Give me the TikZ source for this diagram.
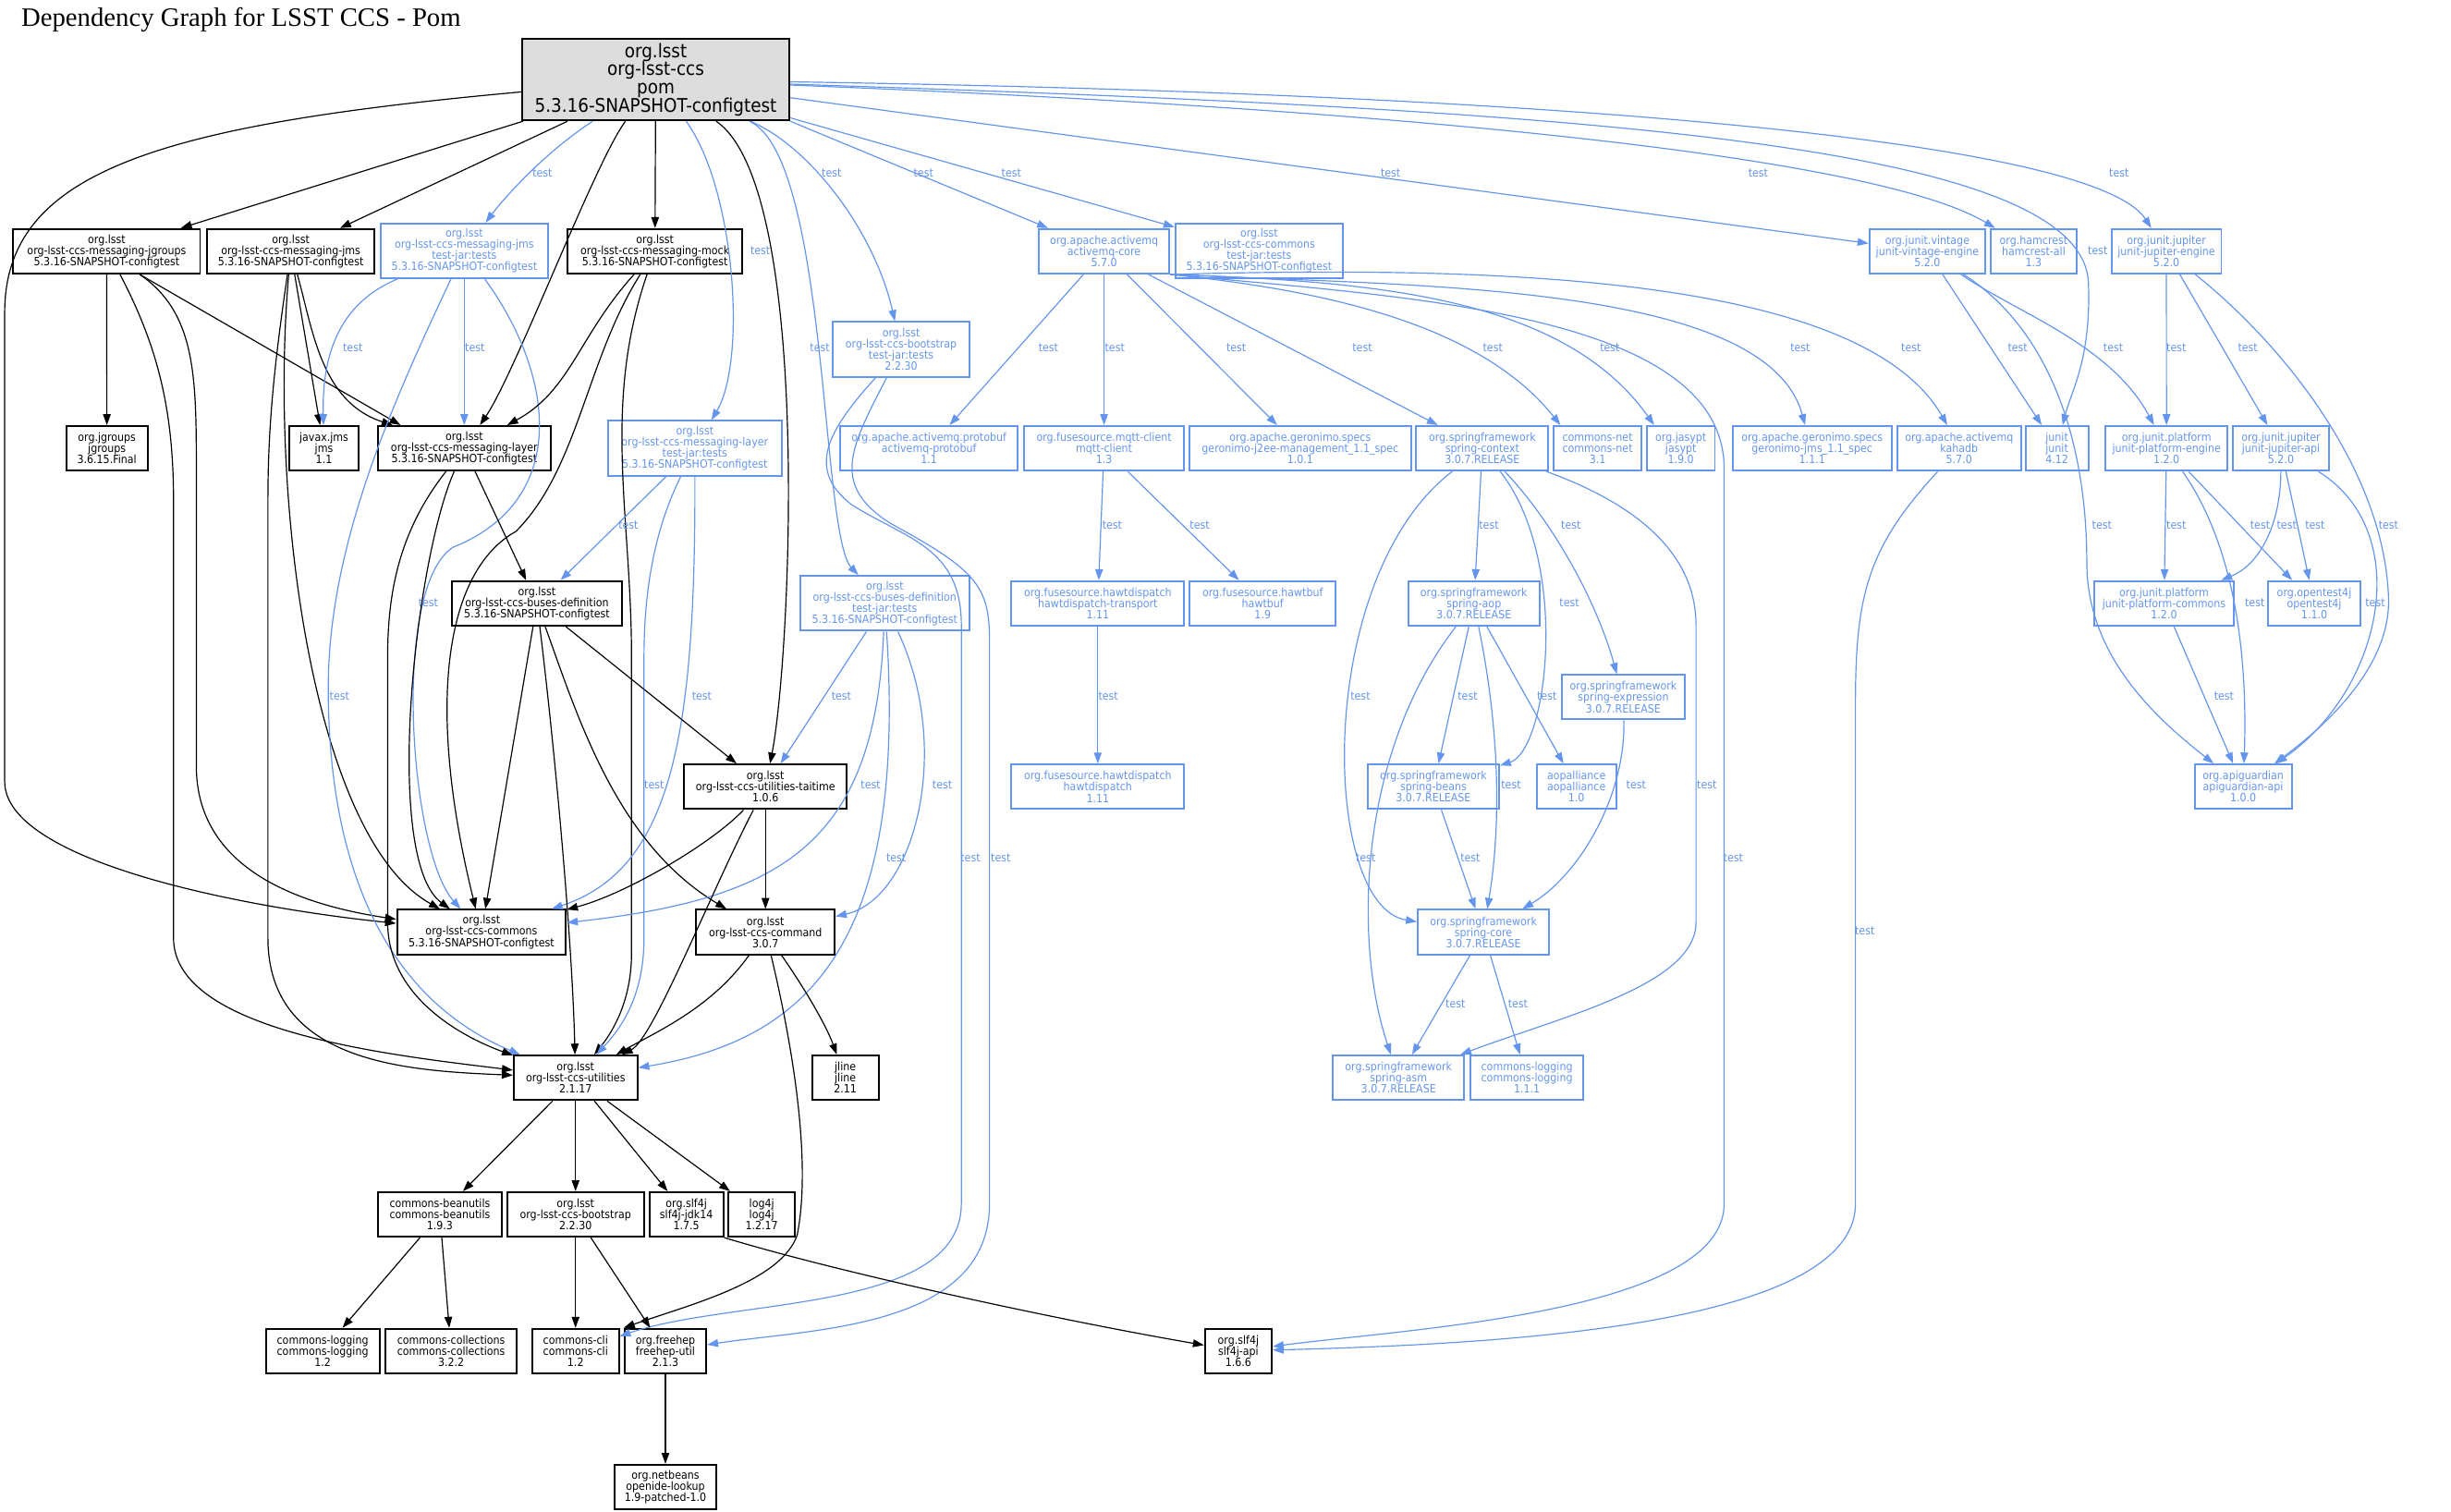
\documentclass[tikz,border=0pt]{standalone}
\usepackage{fontspec}
\setmainfont{Liberation Serif}
\newfontfamily\depfont{DejaVu Sans}[FakeStretch=0.9]
\usetikzlibrary{arrows.meta}
\definecolor{testblue}{RGB}{100,149,237}
\definecolor{rootgray}{RGB}{221,221,221}
\tikzstyle{pkg} = [rectangle, draw=black, line width=1pt, minimum height=0.855cm, inner xsep=1pt, inner ysep=0pt, align=center, font=\depfont\fontsize{6.2}{6.1}\selectfont]
\tikzstyle{testpkg} = [pkg, draw=testblue, text=testblue]
\tikzstyle{testjar} = [testpkg, minimum height=1.05cm]
\tikzstyle{rootpkg} = [pkg, fill=rootgray, minimum height=1.56cm, font=\depfont\fontsize{10.3}{10}\selectfont]
\tikzstyle{arrow} = [line width=.6pt, ->, >={Triangle[length=6pt,width=4.2pt]}]
\tikzstyle{tarrow} = [arrow, testblue]
\tikzstyle{lbl} = [font=\depfont\fontsize{6.2}{6.1}\selectfont, text=testblue, inner sep=0pt]
\begin{document}
\begin{tikzpicture}[x=0.03cm, y=-0.03cm]
\useasboundingbox (0,0) rectangle (1568,967);
\node (title) [anchor=base west, font=\fontsize{14.5}{16}\selectfont] at (9.5,16.8) {Dependency Graph for LSST CCS - Pom};

% packages
\node (root) [rootpkg, minimum width=5.13cm] at (419.5,51) {org.lsst\\org-lsst-ccs\\pom\\5.3.16-SNAPSHOT-configtest};
\node (msgjgroups) [pkg, minimum width=3.585cm] at (68.25,160.75) {org.lsst\\org-lsst-ccs-messaging-jgroups\\5.3.16-SNAPSHOT-configtest};
\node (msgjms) [pkg, minimum width=3.219cm] at (186,160.75) {org.lsst\\org-lsst-ccs-messaging-jms\\5.3.16-SNAPSHOT-configtest};
\node (jmstest) [testjar, minimum width=3.219cm] at (297,160.5) {org.lsst\\org-lsst-ccs-messaging-jms\\test-jar:tests\\5.3.16-SNAPSHOT-configtest};
\node (msgmock) [pkg, minimum width=3.36cm] at (419,160.75) {org.lsst\\org-lsst-ccs-messaging-mock\\5.3.16-SNAPSHOT-configtest};
\node (amqcore) [testpkg, minimum width=2.502cm] at (706.3,160.75) {org.apache.activemq\\activemq-core\\5.7.0};
\node (commonstest) [testjar, minimum width=3.21cm] at (805.5,160.5) {org.lsst\\org-lsst-ccs-commons\\test-jar:tests\\5.3.16-SNAPSHOT-configtest};
\node (vintage) [testpkg, minimum width=2.22cm] at (1233,160.75) {org.junit.vintage\\junit-vintage-engine\\5.2.0};
\node (hamcrest) [testpkg, minimum width=1.65cm] at (1301,160.75) {org.hamcrest\\hamcrest-all\\1.3};
\node (jupeng) [testpkg, minimum width=2.109cm] at (1385.9,160.75) {org.junit.jupiter\\junit-jupiter-engine\\5.2.0};
\node (bootstraptest) [testjar, minimum width=2.61cm] at (576.5,223.5) {org.lsst\\org-lsst-ccs-bootstrap\\test-jar:tests\\2.2.30};

\node (jgroupsjar) [pkg, minimum width=1.56cm] at (68.4,286.8) {org.jgroups\\jgroups\\3.6.15.Final};
\node (javaxjms) [pkg, minimum width=1.335cm] at (207.25,286.8) {javax.jms\\jms\\1.1};
\node (msglayer) [pkg, minimum width=3.321cm] at (297,286.8) {org.lsst\\org-lsst-ccs-messaging-layer\\5.3.16-SNAPSHOT-configtest};
\node (layertest) [testjar, minimum width=3.33cm] at (444.5,286.8) {org.lsst\\org-lsst-ccs-messaging-layer\\test-jar:tests\\5.3.16-SNAPSHOT-configtest};
\node (protobuf) [testpkg, minimum width=3.402cm] at (594.3,286.8) {org.apache.activemq.protobuf\\activemq-protobuf\\1.1};
\node (mqtt) [testpkg, minimum width=3.078cm] at (706.3,286.8) {org.fusesource.mqtt-client\\mqtt-client\\1.3};
\node (geronimoj2ee) [testpkg, minimum width=4.248cm] at (831.8,286.8) {org.apache.geronimo.specs\\geronimo-j2ee-management\_1.1\_spec\\1.0.1};
\node (springctx) [testpkg, minimum width=2.538cm] at (948.3,286.8) {org.springframework\\spring-context\\3.0.7.RELEASE};
\node (commonsnet) [testpkg, minimum width=1.68cm] at (1022,286.8) {commons-net\\commons-net\\3.1};
\node (jasypt) [testpkg, minimum width=1.305cm] at (1075.3,286.8) {org.jasypt\\jasypt\\1.9.0};
\node (geronimojms) [testpkg, minimum width=3.045cm] at (1159.3,286.8) {org.apache.geronimo.specs\\geronimo-jms\_1.1\_spec\\1.1.1};
\node (kahadb) [testpkg, minimum width=2.37cm] at (1253.3,286.8) {org.apache.activemq\\kahadb\\5.7.0};
\node (junit) [testpkg, minimum width=1.209cm] at (1315.9,286.8) {junit\\junit\\4.12};
\node (platformeng) [testpkg, minimum width=2.34cm] at (1386,286.8) {org.junit.platform\\junit-platform-engine\\1.2.0};
\node (jupapi) [testpkg, minimum width=1.83cm] at (1459.2,286.8) {org.junit.jupiter\\junit-jupiter-api\\5.2.0};

\node (busesdef) [pkg, minimum width=3.27cm] at (343.5,386) {org.lsst\\org-lsst-ccs-buses-definition\\5.3.16-SNAPSHOT-configtest};
\node (busestest) [testjar, minimum width=3.24cm] at (566,386) {org.lsst\\org-lsst-ccs-buses-definition\\test-jar:tests\\5.3.16-SNAPSHOT-configtest};
\node (hawtdtransport) [testpkg, minimum width=3.315cm] at (702.3,386) {org.fusesource.hawtdispatch\\hawtdispatch-transport\\1.11};
\node (hawtbuf) [testpkg, minimum width=2.805cm] at (807.8,386) {org.fusesource.hawtbuf\\hawtbuf\\1.9};
\node (springaop) [testpkg, minimum width=2.511cm] at (942.9,386) {org.springframework\\spring-aop\\3.0.7.RELEASE};
\node (platformcommons) [testpkg, minimum width=2.661cm] at (1384.4,386) {org.junit.platform\\junit-platform-commons\\1.2.0};
\node (opentest4j) [testpkg, minimum width=1.77cm] at (1480.5,386) {org.opentest4j\\opentest4j\\1.1.0};
\node (springexpr) [testpkg, minimum width=2.37cm] at (1038.5,446) {org.springframework\\spring-expression\\3.0.7.RELEASE};

\node (taitime) [pkg, minimum width=3.12cm] at (489.7,503.3) {org.lsst\\org-lsst-ccs-utilities-taitime\\1.0.6};
\node (hawtdispatch) [testpkg, minimum width=3.315cm] at (702.3,503.3) {org.fusesource.hawtdispatch\\hawtdispatch\\1.11};
\node (springbeans) [testpkg, minimum width=2.52cm] at (917,503.3) {org.springframework\\spring-beans\\3.0.7.RELEASE};
\node (aopalliance) [testpkg, minimum width=1.53cm] at (1008.5,503.3) {aopalliance\\aopalliance\\1.0};
\node (apiguardian) [testpkg, minimum width=1.86cm] at (1435,503.3) {org.apiguardian\\apiguardian-api\\1.0.0};

\node (commons) [pkg, minimum width=3.24cm] at (308,596.3) {org.lsst\\org-lsst-ccs-commons\\5.3.16-SNAPSHOT-configtest};
\node (command) [pkg, minimum width=2.658cm] at (489.7,596.3) {org.lsst\\org-lsst-ccs-command\\3.0.7};
\node (springcore) [testpkg, minimum width=2.52cm] at (949,596.3) {org.springframework\\spring-core\\3.0.7.RELEASE};

\node (utilities) [pkg, minimum width=2.37cm] at (368.2,689.5) {org.lsst\\org-lsst-ccs-utilities\\2.1.17};
\node (jline) [pkg, minimum width=1.272cm] at (540.8,689.5) {jline\\jline\\2.11};
\node (springasm) [testpkg, minimum width=2.52cm] at (894.7,689.5) {org.springframework\\spring-asm\\3.0.7.RELEASE};
\node (logging111) [testpkg, minimum width=2.172cm] at (976.8,689.5) {commons-logging\\commons-logging\\1.1.1};

\node (beanutils) [pkg, minimum width=2.379cm] at (281.4,776.9) {commons-beanutils\\commons-beanutils\\1.9.3};
\node (bootstrap) [pkg, minimum width=2.619cm] at (368.2,776.9) {org.lsst\\org-lsst-ccs-bootstrap\\2.2.30};
\node (slf4jjdk) [pkg, minimum width=1.416cm] at (439.1,776.9) {org.slf4j\\slf4j-jdk14\\1.7.5};
\node (log4j) [pkg, minimum width=1.278cm] at (487.3,776.9) {log4j\\log4j\\1.2.17};

\node (logging12) [pkg, minimum width=2.181cm] at (206.4,864.3) {commons-logging\\commons-logging\\1.2};
\node (collections) [pkg, minimum width=2.523cm] at (288.6,864.3) {commons-collections\\commons-collections\\3.2.2};
\node (commonscli) [pkg, minimum width=1.659cm] at (368.2,864.3) {commons-cli\\commons-cli\\1.2};
\node (freehep) [pkg, minimum width=1.566cm] at (425.7,864.3) {org.freehep\\freehep-util\\2.1.3};
\node (slf4japi) [pkg, minimum width=1.284cm] at (792.2,864.3) {org.slf4j\\slf4j-api\\1.6.6};
\node (openide) [pkg, minimum width=1.959cm] at (425.7,951.3) {org.netbeans\\openide-lookup\\1.9-patched-1.0};

% root
\draw [arrow] (root) -- (msgjgroups);
\draw [arrow] (root) -- (msgjms);
\draw [tarrow] (root) .. controls (345,100) and (320,130) .. (jmstest) node[lbl] at (347,110.8) {test};
\draw [arrow] (root) .. controls (380,105) and (330,238) .. (msglayer);
\draw [arrow] (root) -- (msgmock);
\draw [tarrow] (root) .. controls (470,120) and (478,230) .. (layertest) node[lbl] at (486.4,160.3) {test};
\draw [arrow] (root) .. controls (520,120) and (506,420) .. (taitime);
\draw [arrow] (root) .. controls (100,80) and (3,110) .. (3,200) -- (3,500) .. controls (3,550) and (150,580) .. (commons);
\draw [tarrow] (root) .. controls (530,100) and (525,342) .. (busestest) node[lbl] at (524.5,222.7) {test};
\draw [tarrow] (root) .. controls (520,95) and (560,150) .. (bootstraptest) node[lbl] at (532,110.8) {test};
\draw [tarrow] (root.south east) -- (amqcore) node[lbl] at (590.8,110.8) {test};
\draw [tarrow] (root) -- (commonstest) node[lbl] at (647,110.8) {test};
\draw [tarrow] (root) -- (vintage) node[lbl] at (889.6,110.8) {test};
\draw [tarrow] (root) .. controls (900,70) and (1200,100) .. (hamcrest) node[lbl] at (1124.8,110.8) {test};
\draw [tarrow] (root) .. controls (1000,70) and (1330,90) .. (1336,180) .. controls (1338,230) and (1325,250) .. (junit) node[lbl] at (1342,160.3) {test};
\draw [tarrow] (root) .. controls (1000,60) and (1340,90) .. (jupeng) node[lbl] at (1355.6,110.8) {test};

% messaging jgroups / jms / mock / layer
\draw [arrow] (msgjgroups) -- (jgroupsjar);
\draw [arrow] (msgjgroups.-35) -- (msglayer.160);
\draw [arrow] (msgjgroups.-35) .. controls (125,200) and (125.6,240) .. (125.6,300) -- (125.6,490) .. controls (125.6,560) and (200,580) .. (commons);
\draw [arrow] (msgjgroups.-60) .. controls (100,220) and (111,260) .. (111,320) -- (111,600) .. controls (111,660) and (250,675) .. (utilities);
\draw [arrow] (msgjms) -- (javaxjms);
\draw [arrow] (msgjms) .. controls (200,210) and (205,257) .. (msglayer);
\draw [arrow] (msgjms) .. controls (172,320) and (200,536) .. (commons);
\draw [arrow] (msgjms) .. controls (176,230) and (171.4,270) .. (171.4,320) -- (171.4,600) .. controls (171.4,680) and (260,685) .. (utilities);
\draw [tarrow] (jmstest) .. controls (215,195) and (206,230) .. (javaxjms) node[lbl] at (225.7,222.7) {test};
\draw [tarrow] (jmstest) -- (msglayer) node[lbl] at (303.8,222.7) {test};
\draw [tarrow] (jmstest) .. controls (355,240) and (365,320) .. (290,350) .. controls (250,375) and (262,545) .. (commons) node[lbl] at (274,385.8) {test};
\draw [tarrow] (jmstest) .. controls (250,260) and (210,350) .. (210,440) .. controls (210,560) and (250,640) .. (utilities) node[lbl] at (217.2,445.5) {test};
\draw [arrow] (msgmock) .. controls (370,215) and (365,250) .. (msglayer);
\draw [arrow] (msgmock) .. controls (375,230) and (370,300) .. (330,340) .. controls (285,365) and (272,450) .. (commons);
\draw [arrow] (msgmock) .. controls (385,260) and (404,330) .. (404,420) -- (404,610) .. controls (404,640) and (392,660) .. (utilities);
\draw [arrow] (msglayer) -- (busesdef);
\draw [arrow] (msglayer) .. controls (265,360) and (245,550) .. (commons);
\draw [arrow] (msglayer) .. controls (255,340) and (248,380) .. (248,420) -- (248,590) .. controls (248,640) and (300,665) .. (utilities);
\draw [tarrow] (layertest) -- (busesdef) node[lbl] at (402,336) {test};
\draw [tarrow] (layertest) .. controls (445,470) and (430,556) .. (commons) node[lbl] at (449,445.5) {test};
\draw [tarrow] (layertest) .. controls (418,340) and (412,380) .. (412,420) -- (412,600) .. controls (412,640) and (395,660) .. (utilities) node[lbl] at (418.5,502.3) {test};

% buses definition
\draw [arrow] (busesdef) -- (commons);
\draw [arrow] (busesdef) .. controls (355,480) and (366,600) .. (utilities);
\draw [arrow] (busesdef) .. controls (370,460) and (395,540) .. (command);
\draw [arrow] (busesdef) -- (taitime);
\draw [tarrow] (busestest) -- (taitime) node[lbl] at (538.3,445.5) {test};
\draw [tarrow] (busestest) .. controls (560,540) and (500,575) .. (commons) node[lbl] at (557,502.3) {test};
\draw [tarrow] (busestest) .. controls (610,480) and (585,575) .. (command) node[lbl] at (602.8,502.3) {test};
\draw [tarrow] (busestest) .. controls (580,600) and (520,665) .. (utilities) node[lbl] at (573.3,549) {test};

% bootstrap test jar
\draw [tarrow] (bootstraptest) .. controls (530,275) and (515,300) .. (545,323) .. controls (580,345) and (615,350) .. (615,400) -- (615,770) .. controls (615,840) and (470,830) .. (commonscli) node[lbl] at (620.8,549) {test};
\draw [tarrow] (bootstraptest) .. controls (545,285) and (530,310) .. (570,335) .. controls (625,365) and (633,375) .. (633,410) -- (633,770) .. controls (633,850) and (520,850) .. (freehep) node[lbl] at (640.2,549) {test};

% activemq
\draw [tarrow] (amqcore) -- (protobuf) node[lbl] at (670.7,222.7) {test};
\draw [tarrow] (amqcore) -- (mqtt) node[lbl] at (713.2,222.7) {test};
\draw [tarrow] (amqcore) -- (geronimoj2ee) node[lbl] at (790.9,222.7) {test};
\draw [tarrow] (amqcore) -- (springctx) node[lbl] at (871.5,222.7) {test};
\draw [tarrow] (amqcore.south east) .. controls (840,185) and (945,205) .. (commonsnet.148) node[lbl] at (955,222.7) {test};
\draw [tarrow] (amqcore.south east) .. controls (880,180) and (1000,190) .. (jasypt.139) node[lbl] at (1029.9,222.7) {test};
\draw [tarrow] (amqcore.south east) .. controls (900,183) and (1130,180) .. (geronimojms.107) node[lbl] at (1151.7,222.7) {test};
\draw [tarrow] (amqcore.south east) .. controls (950,170) and (1190,175) .. (kahadb.117) node[lbl] at (1222.6,222.7) {test};
\draw [tarrow] (amqcore.south east) .. controls (900,190) and (1103,200) .. (1103,300) -- (1103,770) .. controls (1103,840) and (900,850) .. (slf4japi) node[lbl] at (1108.8,549) {test};
\draw [tarrow] (kahadb) .. controls (1195,350) and (1187,380) .. (1187,450) -- (1187,770) .. controls (1187,850) and (950,860) .. (slf4japi) node[lbl] at (1193,595.6) {test};
\draw [tarrow] (mqtt) -- (hawtdtransport) node[lbl] at (711.5,336.1) {test};
\draw [tarrow] (mqtt) -- (hawtbuf) node[lbl] at (767.5,336.1) {test};
\draw [tarrow] (hawtdtransport) -- (hawtdispatch) node[lbl] at (709,445.5) {test};

% spring
\draw [tarrow] (springctx) -- (springaop) node[lbl] at (952.5,336.1) {test};
\draw [tarrow] (springctx) .. controls (1005,360) and (990,480) .. (springbeans) node[lbl] at (1004,385.8) {test};
\draw [tarrow] (springctx) .. controls (990,330) and (1020,380) .. (springexpr) node[lbl] at (1005,336.1) {test};
\draw [tarrow] (springctx) .. controls (840,370) and (845,580) .. (springcore) node[lbl] at (870.3,445.5) {test};
\draw [tarrow] (springctx) .. controls (1040,320) and (1085,350) .. (1085,400) -- (1085,590) .. controls (1085,630) and (1000,650) .. (springasm) node[lbl] at (1091.9,502.3) {test};
\draw [tarrow] (springaop) -- (springbeans) node[lbl] at (938.9,445.5) {test};
\draw [tarrow] (springaop) .. controls (960,470) and (960,530) .. (springcore) node[lbl] at (966.7,502.3) {test};
\draw [tarrow] (springaop) -- (aopalliance) node[lbl] at (989.6,445.5) {test};
\draw [tarrow] (springaop) .. controls (870,480) and (865,600) .. (springasm) node[lbl] at (873.7,549) {test};
\draw [tarrow] (springbeans) -- (springcore) node[lbl] at (940.6,549) {test};
\draw [tarrow] (springexpr) .. controls (1040,510) and (1010,560) .. (springcore) node[lbl] at (1046.7,502.3) {test};
\draw [tarrow] (springcore) -- (springasm) node[lbl] at (931.1,642.1) {test};
\draw [tarrow] (springcore) -- (logging111) node[lbl] at (971.1,642.1) {test};

% junit
\draw [tarrow] (vintage) -- (junit) node[lbl] at (1290.8,222.7) {test};
\draw [tarrow] (vintage) .. controls (1290,200) and (1350,220) .. (platformeng) node[lbl] at (1351.9,222.7) {test};
\draw [tarrow] (vintage) .. controls (1310,210) and (1335,280) .. (1335,360) .. controls (1335,420) and (1380,460) .. (apiguardian) node[lbl] at (1344.7,336.1) {test};
\draw [tarrow] (jupeng) -- (platformeng) node[lbl] at (1392.3,222.7) {test};
\draw [tarrow] (jupeng) -- (jupapi) node[lbl] at (1438,222.7) {test};
\draw [tarrow] (jupeng) .. controls (1460,220) and (1525,300) .. (1528,382) .. controls (1530,430) and (1480,470) .. (apiguardian) node[lbl] at (1528,336.1) {test};
\draw [tarrow] (platformeng) -- (platformcommons) node[lbl] at (1392.3,336.1) {test};
\draw [tarrow] (platformeng) -- (opentest4j) node[lbl] at (1445.9,336.1) {test};
\draw [tarrow] (platformeng) .. controls (1430,350) and (1438,420) .. (apiguardian) node[lbl] at (1442.5,385.8) {test};
\draw [tarrow] (jupapi) .. controls (1459,335) and (1446,361) .. (platformcommons) node[lbl] at (1462.9,336.1) {test};
\draw [tarrow] (jupapi) -- (opentest4j) node[lbl] at (1481,336.1) {test};
\draw [tarrow] (jupapi) .. controls (1545,340) and (1525,440) .. (apiguardian) node[lbl] at (1519.5,385.8) {test};
\draw [tarrow] (platformcommons) -- (apiguardian) node[lbl] at (1422.8,445.5) {test};

% taitime, command, utilities
\draw [arrow] (taitime) .. controls (455,540) and (400,572) .. (commons);
\draw [arrow] (taitime) -- (command);
\draw [arrow] (taitime) .. controls (455,570) and (418,664.5) .. (utilities);
\draw [arrow] (command) .. controls (455,645) and (420,660) .. (utilities);
\draw [arrow] (command) .. controls (520,640) and (530,660) .. (jline);
\draw [arrow] (command) .. controls (505,660) and (520,740) .. (510,790) .. controls (500,820) and (440,835) .. (freehep.north west);
\draw [arrow] (utilities) -- (beanutils);
\draw [arrow] (utilities) -- (bootstrap);
\draw [arrow] (utilities) -- (slf4jjdk);
\draw [arrow] (utilities) -- (log4j);
\draw [arrow] (beanutils) -- (logging12);
\draw [arrow] (beanutils) -- (collections);
\draw [arrow] (bootstrap) -- (commonscli);
\draw [arrow] (bootstrap) -- (freehep);
\draw [arrow] (slf4jjdk.south east) .. controls (540,815) and (680,845) .. (slf4japi);
\draw [arrow] (freehep) -- (openide);
\end{tikzpicture}
\end{document}
